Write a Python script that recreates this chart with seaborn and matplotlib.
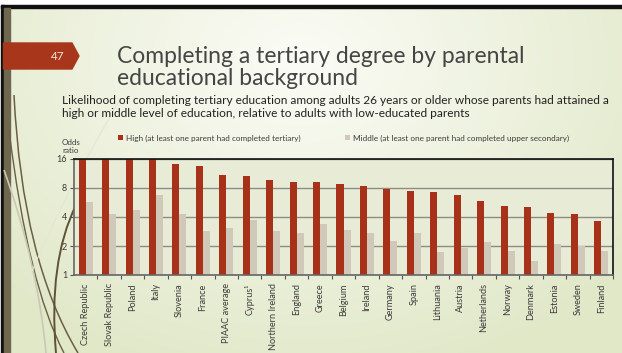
import numpy as np
import pandas as pd
import matplotlib.pyplot as plt
import seaborn as sns
from matplotlib.patches import Polygon, Rectangle, PathPatch
from matplotlib.path import Path

# values (odds ratios, log2 axis)
countries = ['Czech Republic', 'Slovak Republic', 'Poland', 'Italy', 'Slovenia', 'France',
             'PIAAC average', 'Cyprus¹', 'Northern Ireland', 'England', 'Greece', 'Belgium',
             'Ireland', 'Germany', 'Spain', 'Lithuania', 'Austria', 'Netherlands', 'Norway',
             'Denmark', 'Estonia', 'Sweden', 'Finland']
high = [16.5, 16.5, 16.5, 16.5, 14.3, 13.4, 11.0, 10.6, 9.8, 9.3, 9.2, 8.9,
        8.3, 7.9, 7.5, 7.2, 6.8, 5.9, 5.2, 5.1, 4.4, 4.3, 3.6]
middle = [5.7, 4.25, 4.7, 6.7, 4.25, 2.88, 3.04, 3.68, 2.83, 2.70, 3.35, 2.90,
          2.74, 2.28, 2.74, 1.73, 1.89, 2.21, 1.79, 1.40, 2.11, 1.98, 1.79]
levels = ['High (at least one parent had completed tertiary)',
          'Middle (at least one parent had completed upper secondary)']
y_ticks = [1, 2, 4, 8, 16]

W, H = 622, 353
red = '#a8311a'
beige = '#d0c9b9'
txt = '#3b3b3b'

df = pd.DataFrame({
    'country': countries * 2,
    'level': [levels[0]] * len(countries) + [levels[1]] * len(countries),
    'odds': high + middle,
})

sns.set_theme(style='white')
plt.rcParams['font.family'] = ['Lato', 'DejaVu Sans']


def fx(x):
    return x / W


def fy(y):
    return 1 - y / H


fig = plt.figure(figsize=(W / 100, H / 100), dpi=100)

# slide background gradient
bg = fig.add_axes([0, 0, 1, 1], zorder=-10)
yy, xx = np.mgrid[0:H, 0:W]
d = np.sqrt(((xx - 300) / 420.0) ** 2 + ((yy - 60) / 330.0) ** 2)
t = np.clip(d, 0, 1)[..., None]
c0 = np.array([0xfb, 0xfc, 0xf6]) / 255
c1 = np.array([0xe1, 0xe8, 0xc8]) / 255
bg.imshow(c0 * (1 - t) + c1 * t, aspect='auto', extent=[0, W, H, 0])
bg.set_xlim(0, W)
bg.set_ylim(H, 0)
bg.axis('off')

# frame: top white band + black line, left olive bar
bg.add_patch(Rectangle((0, 0), W, 5, color='white', zorder=2))
bg.add_patch(Rectangle((1, 5), W, 3, color='#111111', zorder=3))
bg.add_patch(Rectangle((0, 0), 1, H, color='white', zorder=2))
bg.add_patch(Rectangle((1, 5), 2.5, H, color='#111111', zorder=3))
bg.add_patch(Rectangle((3.5, 8), 6.5, H, color='#6f684f', zorder=3))

# decorative swoosh lines
curves = [((14, 95), (22, 260), (78, 353), '#6b5e45', 1.1),
          ((9, 130), (28, 285), (64, 353), '#6b5e45', 1.0),
          ((76, 205), (48, 262), (56, 353), '#5e5138', 1.4),
          ((4, 170), (38, 265), (46, 353), '#c9c8b4', 1.2),
          ((20, 300), (60, 200), (120, 100), '#e4e6d6', 0.8)]
for p0, p1, p2, col, lw in curves:
    path = Path([p0, p1, p2], [Path.MOVETO, Path.CURVE3, Path.CURVE3])
    bg.add_patch(PathPatch(path, fc='none', ec=col, lw=lw, zorder=4))

# slide number banner
bg.add_patch(Polygon([(3.5, 43), (72, 43), (79, 56), (72, 69), (3.5, 69)],
                     closed=True, color='#a8361a', zorder=5))
bg.text(58, 56.5, '47', color='#f6e6df', fontsize=8.5, ha='center', va='center', zorder=6)

# titles
fig.text(fx(117), fy(63), 'Completing a tertiary degree by parental', fontsize=16.5,
         color='#454545', va='baseline')
fig.text(fx(117), fy(85), 'educational background', fontsize=16.5, color='#454545',
         va='baseline')
fig.text(fx(62), fy(104), 'Likelihood of completing tertiary education among adults 26 years or older '
         'whose parents had attained a', fontsize=8.55, color='#222222', va='baseline')
fig.text(fx(62), fy(117), 'high or middle level of education, relative to adults with low-educated parents',
         fontsize=8.55, color='#222222', va='baseline')
fig.text(fx(62), fy(145), 'Odds', fontsize=5.8, color=txt, va='baseline')
fig.text(fx(62), fy(153), 'ratio', fontsize=5.8, color=txt, va='baseline')

# chart
ax = fig.add_axes([fx(74), fy(275), fx(613 - 74), 116 / H])
ax.set_facecolor('#e8ecd7')
sns.barplot(data=df, x='country', y='odds', hue='level', palette=[red, beige],
            saturation=1, width=0.6, gap=0, linewidth=0, ax=ax)
ax.set_yscale('log', base=2)
ax.set_ylim(1, 16)
ax.set_xlim(-0.5, len(countries) - 0.5)
ax.set_yticks(y_ticks)
ax.set_yticklabels([str(v) for v in y_ticks])
ax.yaxis.set_minor_locator(plt.NullLocator())
ax.set_xticks(np.arange(len(countries)) + 0.5, minor=True)
ax.set_xticklabels(countries, rotation=90, fontsize=6.6, color=txt)
ax.tick_params(axis='x', which='major', length=0, pad=6)
ax.tick_params(axis='x', which='minor', length=3, width=0.8, color='#555555', bottom=True)
ax.tick_params(axis='y', length=3, width=0.8, color='#555555', left=True, labelsize=6.5,
               labelcolor=txt, pad=2)
ax.set_xlabel('')
ax.set_ylabel('')
ax.grid(axis='y', color='#8c8c84', lw=1.0)
ax.set_axisbelow(True)
for s in ['top', 'right']:
    ax.spines[s].set_color('#111111')
    ax.spines[s].set_linewidth(1.2)
for s in ['left', 'bottom']:
    ax.spines[s].set_color('#666666')
    ax.spines[s].set_linewidth(1.2)

handles, labels = ax.get_legend_handles_labels()
ax.legend(handles, labels, ncol=2, frameon=False, fontsize=5.9, loc='lower left',
          bbox_to_anchor=(fx(118), fy(142)), bbox_transform=fig.transFigure,
          handlelength=0.55, handleheight=0.55, handletextpad=0.4, columnspacing=5.5,
          labelcolor=txt, borderaxespad=0, borderpad=0)

fig.savefig('out.png', dpi=100)
